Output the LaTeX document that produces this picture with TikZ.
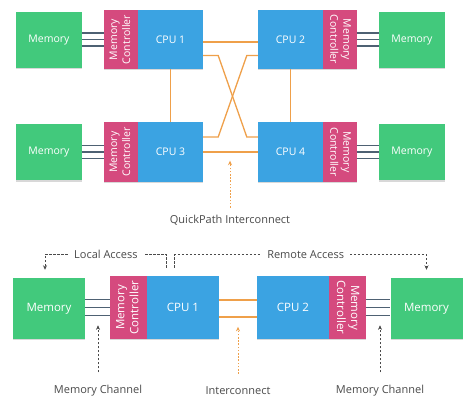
\documentclass[tikz,border=0pt]{standalone}
\usepackage{fontspec}
\setmainfont{Open Sans}
\usetikzlibrary{arrows.meta,calc,shadows}
\definecolor{memgreen}{HTML}{42C97C}
\definecolor{mcpink}{HTML}{D54A7E}
\definecolor{cpublue}{HTML}{3BA3E2}
\definecolor{icorange}{HTML}{EFA04A}
\definecolor{chgray}{HTML}{4E6173}
\definecolor{lblgray}{HTML}{4A4A4A}
\begin{document}
\begin{tikzpicture}[x=1pt,y=-1pt,
  box/.style={draw=none,text=white,inner sep=0pt,font=\fontsize{10.5}{13}\selectfont,
    drop shadow={shadow xshift=0pt,shadow yshift=-1.2pt,opacity=0.3}},
  bigbox/.style={box,font=\fontsize{11.5}{14}\selectfont},
  mem/.style={box,fill=memgreen,minimum width=66pt,minimum height=56pt},
  bmem/.style={bigbox,fill=memgreen,minimum width=72pt,minimum height=61pt},
  mcbox/.style={box,fill=mcpink,minimum width=34pt,minimum height=59pt},
  bmcbox/.style={bigbox,fill=mcpink,minimum width=37pt,minimum height=63pt},
  cpu/.style={box,fill=cpublue,minimum width=65pt,minimum height=59pt},
  bcpu/.style={bigbox,fill=cpublue,minimum width=72pt,minimum height=63pt},
  chan/.style={draw=chgray,line width=1.4pt},
  ic/.style={draw=icorange,line width=1.3pt},
  acc/.style={draw=lblgray,line width=0.7pt,dash pattern=on 2.4pt off 1.6pt},
  icacc/.style={draw=icorange,line width=0.8pt,dash pattern=on 1.6pt off 1.6pt},
  tip/.style={-{Stealth[length=4.5pt,width=4pt]}},
  lbl/.style={text=lblgray,font=\fontsize{11}{13}\selectfont,inner sep=1pt},
  gaplbl/.style={lbl,fill=white,inner xsep=6pt}
]
\useasboundingbox (0,0) rectangle (474,417);
\fill[white] (0,0) rectangle (474,417);

\newcommand{\mctext}[1]{\rotatebox{#1}{\begin{tabular}{@{}c@{}}Memory\\Controller\end{tabular}}}

% ---------- top: four sockets ----------
\node[mem] (m1) at (49,40) {Memory};
\node[mcbox] (mc1) at (121,39.5) {\mctext{90}};
\node[cpu] (c1) at (170.5,39.5) {CPU 1};
\node[cpu] (c2) at (290.5,39.5) {CPU 2};
\node[mcbox] (mc2) at (339.5,39.5) {\mctext{-90}};
\node[mem] (m2) at (412,40) {Memory};

\node[mem] (m3) at (49,152.5) {Memory};
\node[mcbox] (mc3) at (121,152) {\mctext{90}};
\node[cpu] (c3) at (170.5,152) {CPU 3};
\node[cpu] (c4) at (290.5,152) {CPU 4};
\node[mcbox] (mc4) at (339.5,152) {\mctext{-90}};
\node[mem] (m4) at (412,152.5) {Memory};

\foreach \d in {-6.5,0,6.5}{
  \draw[chan] ([yshift=\d pt]mc1.west) -- ([yshift=\d pt]mc1.west -| m1.east);
  \draw[chan] ([yshift=\d pt]mc2.east) -- ([yshift=\d pt]mc2.east -| m2.west);
  \draw[chan] ([yshift=\d pt]mc3.west) -- ([yshift=\d pt]mc3.west -| m3.east);
  \draw[chan] ([yshift=\d pt]mc4.east) -- ([yshift=\d pt]mc4.east -| m4.west);
}

% interconnect links
\draw[ic] ([yshift=-2.5pt]c1.east) -- ([yshift=-2.5pt]c1.east -| c2.west);
\draw[ic] (c3.east) -- (c4.west);
\draw[ic] (c1.south) -- (c3.north);
\draw[ic] (c2.south) -- (c4.north);
\draw[ic] ([yshift=-16pt]c1.east) -- ++(15,0) -- ([xshift=-11pt,yshift=15pt]c4.west) -- ([yshift=15pt]c4.west);
\draw[ic] ([yshift=-16pt]c2.west) -- ++(-11,0) -- ([xshift=15pt,yshift=15pt]c3.east) -- ([yshift=15pt]c3.east);

\node[lbl] (qpi) at (230,220) {QuickPath Interconnect};
\draw[icacc,tip] ([yshift=6pt]qpi.north) -- ([yshift=53pt]qpi.north);

% ---------- bottom: two sockets ----------
\node[bmem] (mL) at (49,308.5) {Memory};
\node[bmcbox] (mcL) at (128.5,307.5) {\mctext{90}};
\node[bcpu] (cL) at (183,307.5) {CPU 1};
\node[bcpu] (cR) at (293,307.5) {CPU 2};
\node[bmcbox] (mcR) at (347,307.5) {\mctext{-90}};
\node[bmem] (mR) at (426.5,308.5) {Memory};

\foreach \d in {-8,0,8}{
  \draw[chan] ([yshift=\d pt]mcL.west) -- ([yshift=\d pt]mcL.west -| mL.east);
  \draw[chan] ([yshift=\d pt]mcR.east) -- ([yshift=\d pt]mcR.east -| mR.west);
}
\draw[ic] ([yshift=7.5pt]cL.east) -- ([yshift=7.5pt]cL.east -| cR.west);
\draw[ic] ([yshift=-9.5pt]cL.east) -- ([yshift=-9.5pt]cL.east -| cR.west);

% access paths
\coordinate (laS) at ([xshift=20pt,yshift=8pt]cL.north west);
\coordinate (laE) at ([xshift=-4pt,yshift=8pt]mL.north);
\coordinate (raS) at ([xshift=28pt,yshift=8pt]cL.north west);
\coordinate (raE) at ([yshift=8pt]mR.north);
\draw[acc,tip] (laS) |- node[gaplbl,pos=0.75] (lacc) {Local Access} ($(laE)+(0,-15)$) -- (laE);
\draw[acc,tip] (raS) |- node[gaplbl,pos=0.76] (racc) {Remote Access} ($(raE)+(0,-15)$) -- (raE);

% bottom labels
\node[lbl] (mch1) at (98,391) {Memory Channel};
\node[lbl] (icl) at (238,391) {Interconnect};
\node[lbl] (mch2) at (380,391) {Memory Channel};
\draw[acc,tip] ([yshift=12pt]mch1.north) -- ([yshift=59pt]mch1.north);
\draw[icacc,tip] ([yshift=12pt]icl.north) -- ([yshift=59pt]icl.north);
\draw[acc,tip] ([yshift=12pt]mch2.north) -- ([yshift=59pt]mch2.north);
\end{tikzpicture}
\end{document}
